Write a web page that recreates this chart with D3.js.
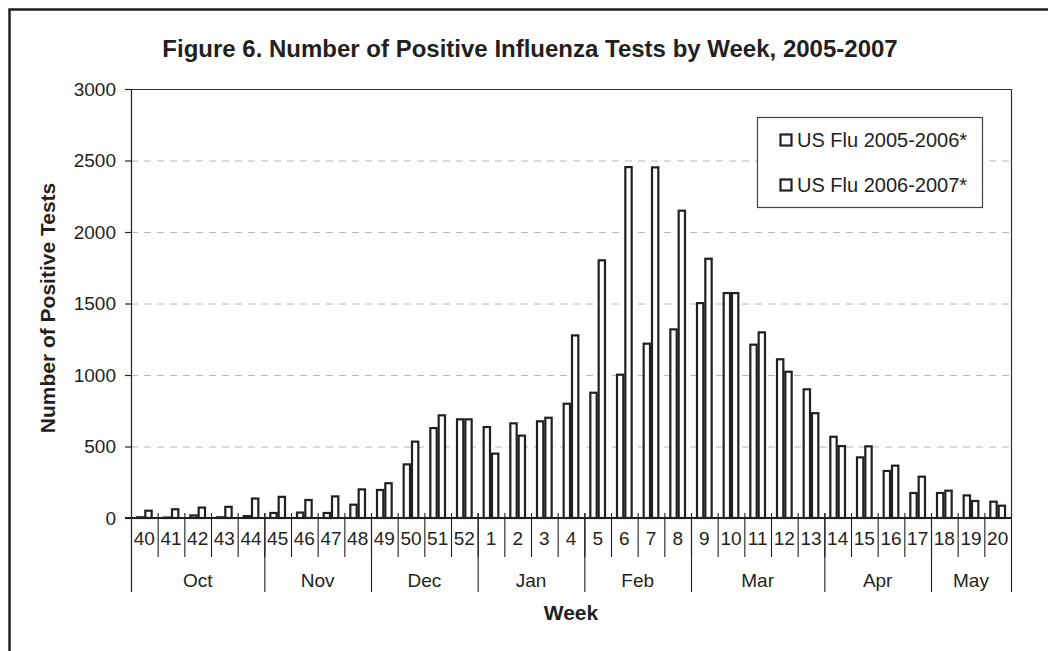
<!DOCTYPE html>
<html>
<head>
<meta charset="utf-8">
<script src="https://cdn.jsdelivr.net/npm/d3@7"></script>
<style>
  body { margin: 0; background: #fff; }
  svg { display: block; font-family: "Liberation Sans", Arial, sans-serif; }
</style>
</head>
<body>
<div id="container"></div>
<script>
// weeks of the flu season, Oct to May
const weeks = ["40", "41", "42", "43", "44", "45", "46", "47", "48", "49", "50", "51", "52",
  "1", "2", "3", "4", "5", "6", "7", "8", "9", "10", "11", "12", "13", "14", "15", "16", "17", "18", "19", "20"];

const flu0506 = [12, 10, 25, 12, 20, 42, 45, 42, 100, 203, 382, 636, 697,
  643, 669, 683, 806, 883, 1009, 1226, 1326, 1510, 1580, 1219, 1117, 907, 575, 431, 336, 182, 182, 165, 121];
const flu0607 = [58, 68, 80, 85, 143, 155, 133, 158, 207, 250, 541, 725, 697,
  457, 583, 708, 1284, 1809, 2461, 2459, 2156, 1820, 1580, 1305, 1030, 740, 510, 508, 373, 296, 198, 126, 93];

const seriesNames = ["US Flu 2005-2006*", "US Flu 2006-2007*"];

// months and how many weeks each spans
const months = ["Oct", "Nov", "Dec", "Jan", "Feb", "Mar", "Apr", "May"];
const monthWeeks = [5, 4, 4, 4, 4, 5, 4, 3];

const yTicks = [0, 500, 1000, 1500, 2000, 2500, 3000];

const width = 1048, height = 651;
const margin = { top: 89, right: 37, bottom: 133, left: 131 };
const ink = "#231f20";

const svg = d3.select("#container")
  .append("svg")
  .attr("width", width)
  .attr("height", height);

// outer frame (cropped on right and bottom)
svg.append("rect")
  .attr("x", 9.5).attr("y", 9.5)
  .attr("width", width + 20).attr("height", height + 20)
  .attr("fill", "none")
  .attr("stroke", ink)
  .attr("stroke-width", 2.5);

const x0 = d3.scaleBand()
  .domain(weeks)
  .range([margin.left, width - margin.right])
  .paddingInner(0).paddingOuter(0);

const bw = x0.bandwidth();
const gap = bw * 0.375;
const x1 = d3.scaleBand()
  .domain([0, 1])
  .range([gap / 2, bw - gap / 2]);

const y = d3.scaleLinear()
  .domain([0, 3000])
  .range([height - margin.bottom, margin.top]);

const x0Left = margin.left, x0Right = width - margin.right;
const base = y(0);

// dashed gridlines
svg.append("g")
  .selectAll("line")
  .data(yTicks.filter(d => d > 0 && d < 3000))
  .join("line")
  .attr("x1", x0Left).attr("x2", x0Right)
  .attr("y1", d => y(d) + 0.5).attr("y2", d => y(d) + 0.5)
  .attr("stroke", "#b8b8b8")
  .attr("stroke-width", 1)
  .attr("stroke-dasharray", "7,6");

// plot border top + right
svg.append("path")
  .attr("d", `M${x0Left},${y(3000) + 0.5}H${x0Right + 0.5}V${base}`)
  .attr("fill", "none")
  .attr("stroke", "#333")
  .attr("stroke-width", 1.2);

// bars
const series = [flu0506, flu0607];
const groups = svg.append("g")
  .selectAll("g")
  .data(weeks)
  .join("g")
  .attr("transform", d => `translate(${x0(d)},0)`);

groups.selectAll("rect")
  .data((d, i) => series.map((s, k) => ({ k, v: s[i] })))
  .join("rect")
  .attr("x", d => x1(d.k) + 1)
  .attr("width", x1.bandwidth() - 2)
  .attr("y", d => y(d.v) + 1)
  .attr("height", d => Math.max(0, base - y(d.v) - 1))
  .attr("fill", "#fff")
  .attr("stroke", ink)
  .attr("stroke-width", 2.2);

// y axis
const yAxis = svg.append("g")
  .attr("transform", `translate(${x0Left},0)`)
  .call(d3.axisLeft(y).tickValues(yTicks).tickFormat(d3.format("d")).tickSize(6).tickPadding(9));
yAxis.select(".domain").remove();
yAxis.selectAll(".tick line").attr("stroke", ink).attr("stroke-width", 1.2);
yAxis.selectAll(".tick text")
  .attr("fill", ink)
  .style("font-size", "19px")
  .style("font-family", "Liberation Sans, Arial, sans-serif");

// x axis baseline
svg.append("line")
  .attr("x1", x0Left - 6).attr("x2", x0Right + 1)
  .attr("y1", base).attr("y2", base)
  .attr("stroke", ink).attr("stroke-width", 1.8);

// left axis line, runs down to the month row
svg.append("line")
  .attr("x1", x0Left + 0.5).attr("x2", x0Left + 0.5)
  .attr("y1", y(3000)).attr("y2", 592)
  .attr("stroke", ink).attr("stroke-width", 1.2);

// week boundary ticks
svg.append("g")
  .selectAll("line")
  .data(weeks.slice(1))
  .join("line")
  .attr("x1", d => x0(d) + 0.5).attr("x2", d => x0(d) + 0.5)
  .attr("y1", base - 5).attr("y2", 557)
  .attr("stroke", ink).attr("stroke-width", 1.1);

// week labels
svg.append("g")
  .selectAll("text")
  .data(weeks)
  .join("text")
  .attr("x", d => x0(d) + bw / 2)
  .attr("y", 545)
  .attr("text-anchor", "middle")
  .attr("fill", ink)
  .style("font-size", "19px")
  .text(d => d);

// month boundaries + labels
let start = 0;
const monthSpans = months.map((m, i) => {
  const s = start;
  start += monthWeeks[i];
  return { m, s, e: start };
});
const xAt = idx => idx < weeks.length ? x0(weeks[idx]) : x0Right;

svg.append("g")
  .selectAll("line")
  .data(monthSpans)
  .join("line")
  .attr("x1", d => xAt(d.e) + 0.5).attr("x2", d => xAt(d.e) + 0.5)
  .attr("y1", base - 5).attr("y2", 592)
  .attr("stroke", ink).attr("stroke-width", 1.1);

svg.append("g")
  .selectAll("text")
  .data(monthSpans)
  .join("text")
  .attr("x", d => (xAt(d.s) + xAt(d.e)) / 2)
  .attr("y", 587)
  .attr("text-anchor", "middle")
  .attr("fill", ink)
  .style("font-size", "19px")
  .text(d => d.m);

// titles
svg.append("text")
  .attr("x", 530).attr("y", 57)
  .attr("text-anchor", "middle")
  .attr("fill", ink)
  .style("font-size", "24px").style("font-weight", "bold")
  .text("Figure 6. Number of Positive Influenza Tests by Week, 2005-2007");

svg.append("text")
  .attr("x", 571).attr("y", 620)
  .attr("text-anchor", "middle")
  .attr("fill", ink)
  .style("font-size", "21px").style("font-weight", "bold")
  .text("Week");

svg.append("text")
  .attr("transform", "translate(55,308) rotate(-90)")
  .attr("text-anchor", "middle")
  .attr("fill", ink)
  .style("font-size", "21px").style("font-weight", "bold")
  .text("Number of Positive Tests");

// legend
const legend = svg.append("g");
legend.append("rect")
  .attr("x", 757.5).attr("y", 117.5)
  .attr("width", 225).attr("height", 90)
  .attr("fill", "#fff")
  .attr("stroke", "#444").attr("stroke-width", 1.2);

const items = legend.selectAll("g")
  .data(seriesNames)
  .join("g")
  .attr("transform", (d, i) => `translate(780,${140 + i * 45})`);
items.append("rect")
  .attr("x", 0.5).attr("y", -5.5)
  .attr("width", 11).attr("height", 11)
  .attr("fill", "#fff")
  .attr("stroke", ink).attr("stroke-width", 2.2);
items.append("text")
  .attr("x", 17).attr("y", 7)
  .attr("fill", ink)
  .style("font-size", "20px")
  .text(d => d);
</script>
</body>
</html>
